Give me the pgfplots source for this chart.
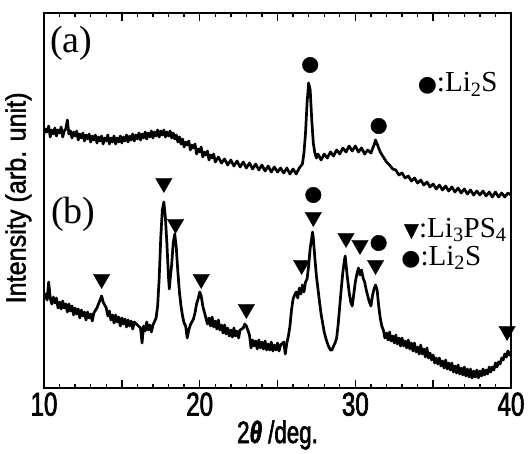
\documentclass[border=0pt]{standalone}
\usepackage{pgfplots}
\pgfplotsset{compat=1.18}
\usepackage{fontspec}
\setmainfont{Liberation Serif}
\newfontfamily\condsans[FakeStretch=0.73, FakeBold=2]{Liberation Sans}
\newfontfamily\labsans[FakeStretch=0.72, FakeBold=2]{Liberation Sans}
\newfontfamily\ysans[FakeStretch=0.9, FakeBold=1.5]{Liberation Sans}
\newfontfamily\symfont{DejaVu Sans}

\pgfplotstableread{
x y
10.0 254
10.1 259
10.2 256
10.3 262
10.4 251
10.5 258
10.6 254
10.7 260
10.8 252
10.9 258
11.0 255
11.1 261
11.2 251
11.3 257
11.4 259
11.5 268
11.6 254
11.7 257
11.8 250
11.9 256
12.0 252
12.1 257
12.2 248
12.3 254
12.4 250
12.5 255
12.6 247
12.7 253
12.8 249
12.9 254
13.0 246
13.1 252
13.2 248
13.3 253
13.4 245
13.5 251
13.6 247
13.7 252
13.8 244
13.9 250
14.0 247
14.1 253
14.2 244
14.3 250
14.4 246
14.5 252
14.6 244
14.7 250
14.8 246
14.9 252
15.0 245
15.1 251
15.2 247
15.3 253
15.4 246
15.5 252
15.6 248
15.7 254
15.8 247
15.9 253
16.0 249
16.1 255
16.2 248
16.3 254
16.4 250
16.5 256
16.6 249
16.7 255
16.8 251
16.9 257
17.0 250
17.1 256
17.2 252
17.3 258
17.4 251
17.5 257
17.6 253
17.7 258
17.8 251
17.9 256
18.0 252
18.1 257
18.2 250
18.3 255
18.4 249
18.5 253
18.6 246
18.7 251
18.8 244
18.9 249
19.0 241
19.1 246
19.2 243
19.3 247
19.4 238
19.5 243
19.6 240
19.7 244
19.8 234
19.9 239
20.0 236
20.1 241
20.2 231
20.3 236
20.4 233
20.5 237
20.6 228
20.7 233
20.8 230
20.9 234
21.0 226
21.2 231
21.4 225
21.6 229
21.8 223
22.0 228
22.2 222
22.4 227
22.6 221
22.8 226
23.0 220
23.2 225
23.4 219
23.6 224
23.8 218
24.0 223
24.2 217
24.4 222
24.6 216
24.8 221
25.0 216
25.2 220
25.4 215
25.6 220
25.8 214
26.0 219
26.2 214
26.4 220
26.6 224
26.7 235
26.8 255
26.9 285
27.0 305
27.1 298
27.2 268
27.3 245
27.4 235
27.5 230
27.6 234
27.8 228
28.0 234
28.2 230
28.4 236
28.6 232
28.8 238
29.0 234
29.2 240
29.4 236
29.6 242
29.8 237
30.0 242
30.2 236
30.4 240
30.6 234
30.8 238
31.0 235
31.2 243
31.3 248
31.4 244
31.6 236
31.8 231
32.0 226
32.2 223
32.4 219
32.6 218
32.8 213
33.0 215
33.2 210
33.4 212
33.6 207
33.8 210
34.0 205
34.2 208
34.4 203
34.6 206
34.8 201
35.0 204
35.2 199
35.4 203
35.6 198
35.8 202
36.0 197
36.2 201
36.4 196
36.6 200
36.8 195
37.0 199
37.2 194
37.4 198
37.6 193
37.8 197
38.0 193
38.2 197
38.4 192
38.6 196
38.8 191
39.0 196
39.2 191
39.4 195
39.6 191
39.8 195
40.0 193
}\curveA

\pgfplotstableread{
x y
10.0 89
10.1 94
10.2 88
10.3 106
10.4 90
10.5 84
10.6 91
10.7 85
10.8 90
10.9 80
11.0 86
11.1 79
11.2 87
11.3 80
11.4 84
11.5 76
11.6 84
11.7 77
11.8 82
11.9 73
12.0 80
12.1 74
12.2 79
12.3 70
12.4 78
12.5 72
12.6 76
12.7 68
12.8 76
12.9 70
13.0 74
13.1 67
13.2 75
13.4 80
13.6 88
13.7 92
13.8 86
14.0 80
14.1 72
14.2 77
14.3 68
14.4 73
14.5 65
14.6 73
14.7 66
14.8 71
14.9 62
15.0 70
15.1 64
15.2 69
15.3 61
15.4 68
15.5 62
15.6 67
15.7 59
15.8 66
16.0 63
16.2 60
16.3 45
16.4 62
16.5 57
16.6 66
16.7 58
16.8 63
16.9 56
17.0 63
17.2 70
17.3 82
17.4 110
17.5 150
17.6 178
17.7 186
17.8 170
17.9 143
18.0 110
18.05 99
18.1 108
18.2 123
18.3 145
18.4 154
18.5 140
18.6 116
18.7 96
18.8 82
18.9 72
19.0 65
19.1 62
19.2 50
19.3 58
19.4 63
19.5 66
19.6 69
19.7 75
19.8 84
19.9 89
20.0 96
20.1 92
20.2 82
20.3 76
20.4 70
20.5 64
20.6 70
20.7 62
20.8 71
20.9 61
21.0 67
21.1 59
21.2 68
21.3 58
21.4 63
21.5 55
21.6 63
21.7 54
21.8 60
21.9 52
22.0 58
22.1 51
22.2 60
22.3 52
22.4 57
22.5 50
22.6 58
22.8 60
22.9 64
23.0 62
23.2 53
23.3 40
23.4 48
23.5 42
23.6 47
23.7 39
23.8 48
23.9 40
24.0 46
24.1 39
24.2 47
24.3 38
24.4 44
24.5 38
24.6 46
24.7 37
24.8 43
24.9 38
25.0 45
25.1 37
25.2 43
25.4 46
25.5 34
25.6 45
25.7 52
25.8 62
25.9 78
26.0 89
26.1 93
26.2 96
26.3 90
26.4 100
26.5 94
26.6 103
26.7 96
26.8 106
26.9 109
27.0 122
27.1 140
27.2 150
27.25 156
27.3 150
27.4 130
27.5 112
27.6 99
27.7 86
27.8 74
27.9 65
28.0 56
28.1 50
28.2 45
28.3 41
28.4 38
28.5 38
28.6 42
28.7 45
28.8 50
28.9 64
29.0 82
29.1 100
29.2 116
29.3 128
29.35 132
29.4 124
29.5 109
29.6 96
29.7 86
29.8 82
29.9 94
30.0 106
30.1 114
30.2 120
30.3 113
30.4 118
30.5 110
30.6 106
30.7 98
30.8 92
30.9 86
31.0 82
31.1 92
31.2 99
31.3 103
31.4 98
31.5 82
31.6 70
31.7 62
31.8 58
31.9 50
32.0 55
32.1 48
32.2 56
32.3 47
32.4 52
32.5 45
32.6 53
32.7 44
32.8 50
32.9 42
33.0 50
33.1 42
33.2 47
33.3 40
33.4 48
33.5 39
33.6 45
33.7 37
33.8 45
33.9 36
34.0 41
34.1 34
34.2 43
34.3 34
34.4 39
34.5 31
34.6 40
34.7 30
34.8 35
34.9 28
35.0 33
35.1 25
35.2 30
35.3 24
35.4 30
35.5 22
35.6 27
35.7 20
35.8 28
35.9 19
36.0 25
36.1 18
36.2 25
36.3 16
36.4 22
36.5 15
36.6 23
36.7 14
36.8 20
36.9 13
37.0 21
37.1 12
37.2 19
37.3 11
37.4 19
37.5 10
37.6 17
37.7 11
37.8 18
37.9 10
38.0 17
38.1 12
38.2 19
38.3 13
38.4 18
38.5 14
38.6 21
38.7 16
38.8 21
38.9 18
39.0 25
39.1 21
39.2 26
39.3 24
39.4 30
39.5 28
39.6 34
39.7 31
39.8 37
39.9 33
40.0 36
}\curveB

\pgfplotstableread{
x y
13.7 109
17.7 205
18.45 164
20.1 109
23.0 79
26.55 123
27.3 171
29.4 150
30.3 143
31.3 123
39.75 57
}\tri

\pgfplotstableread{
x y
27.1 323
31.5 262
27.3 193
31.5 145
}\circ

\begin{document}
\begin{tikzpicture}
\begin{axis}[
  name=ax,
  scale only axis,
  width=467pt, height=375pt,
  xmin=10, xmax=40, ymin=0, ymax=375,
  axis line style={line width=2pt},
  xtick={10,15,20,25,30,35,40},
  xticklabels={10,,20,,30,,40},
  minor x tick num=4,
  ytick=\empty,
  tick align=inside,
  xtick pos=both,
  major tick length=8pt,
  minor tick length=4.5pt,
  every tick/.style={black, line width=1.4pt},
  /pgf/number format/assume math mode=true,
  xticklabel style={font=\condsans\fontsize{33}{33}\selectfont, yshift=-1pt},
  ylabel={Intensity (arb. unit)},
  ylabel style={font=\ysans\fontsize{28}{28}\selectfont, at={(axis description cs:-0.055,0.507)}, anchor=center},
  clip=true,
]
\addplot[black, line width=2.7pt, line join=round] table {\curveA};
\addplot[black, line width=2.7pt, line join=round] table {\curveB};
\addplot[only marks, mark=triangle*, mark size=9.5pt, mark options={rotate=180, fill=black, draw=black}] table {\tri};
\addplot[only marks, mark=*, mark size=7.8pt, mark options={fill=black, draw=black}] table {\circ};
\node[anchor=west, inner sep=0pt, font=\fontsize{38}{38}\selectfont] at (axis cs:10.38,345) {(a)};
\node[anchor=west, inner sep=0pt, font=\fontsize{38}{38}\selectfont] at (axis cs:10.45,174) {(b)};
\node[anchor=base west, inner sep=0pt, font=\fontsize{29}{29}\selectfont] at (axis cs:34.0,296) {{\symfont\fontsize{22}{22}\selectfont ●}:Li\textsubscript{2}S};
\node[anchor=base west, inner sep=0pt, font=\fontsize{29}{29}\selectfont] at (axis cs:33.1,151) {{\symfont\fontsize{20}{20}\selectfont ▼}:Li\textsubscript{3}PS\textsubscript{4}};
\node[anchor=base west, inner sep=0pt, font=\fontsize{29}{29}\selectfont] at (axis cs:32.95,123) {{\symfont\fontsize{22}{22}\selectfont ●}:Li\textsubscript{2}S};
\end{axis}
\node[anchor=base, inner sep=0pt, font=\labsans\fontsize{31}{31}\selectfont] at (233.5pt,-55pt) {2{\bfseries\itshape θ} /deg.};
\pgfresetboundingbox
\path[use as bounding box] (-44pt,-65pt) rectangle (488pt,388pt);
\end{tikzpicture}
\end{document}
